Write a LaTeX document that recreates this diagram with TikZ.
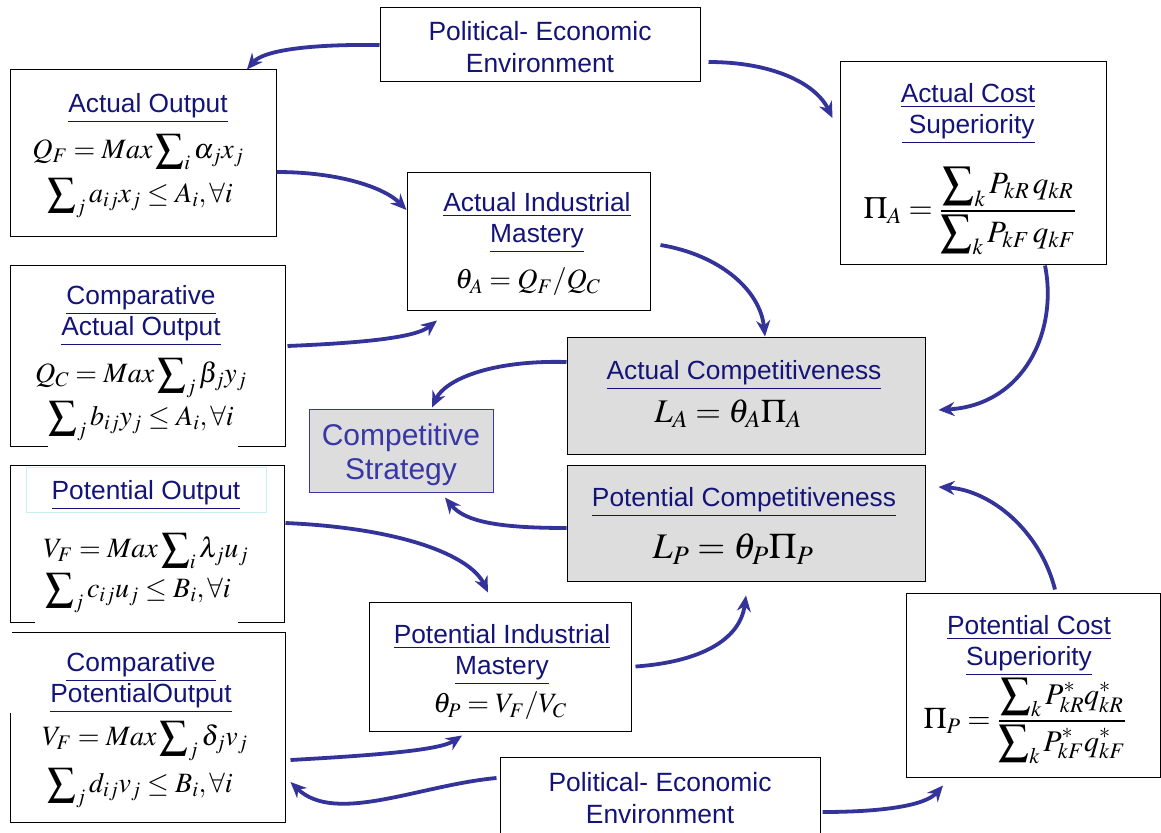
\documentclass[tikz,border=0pt]{standalone}
\usepackage{amsmath}
\usepackage{mathptmx}
\usepackage[no-math]{fontspec}
\setmainfont{Liberation Sans}
\usetikzlibrary{arrows.meta}
\definecolor{navy}{RGB}{20,20,120}
\definecolor{arrowblue}{RGB}{51,51,153}
\definecolor{csblue}{RGB}{55,55,165}
\definecolor{boxgray}{RGB}{221,221,221}
\definecolor{lcyan}{RGB}{200,240,240}
\newcommand\hd[1]{\underline{#1}}
\begin{document}
\begin{tikzpicture}[x=1pt,y=-1pt,
  box/.style={draw=black, line width=1pt, inner sep=0pt},
  graybox/.style={box, fill=boxgray},
  title/.style={text=navy, font=\fontsize{26.3}{31}\selectfont, align=center, inner sep=0pt},
  plain/.style={text=navy, font=\fontsize{26.4}{32}\selectfont, align=center, inner sep=0pt},
  fm/.style={font=\fontsize{28}{30}\selectfont, inner sep=0pt},
  arr/.style={draw=arrowblue, line width=3.8pt, -{Stealth[length=16pt,width=14pt]}}]
\useasboundingbox (0,0) rectangle (1161,832);
\fill[white] (0,0) rectangle (1161,832);

% boxes
\node[box, minimum width=320pt, minimum height=74pt] (topPEE) at (540,45) {};
\node[box, minimum width=266pt, minimum height=166pt] (ao) at (143,153) {};
\node[box, minimum width=266pt, minimum height=202pt] (acs) at (973,163) {};
\node[box, minimum width=243pt, minimum height=138pt] (aim) at (528.5,241) {};
\node[box, minimum width=275pt, minimum height=181pt] (cao) at (147.5,355.5) {};
\node[draw=csblue, line width=1pt, fill=boxgray, minimum width=184pt, minimum height=83pt, inner sep=0pt] (cs) at (401,450.5) {};
\node[graybox, minimum width=358pt, minimum height=117pt] (ac) at (746,395.5) {};
\node[graybox, minimum width=358pt, minimum height=116pt] (pc) at (746,523) {};
\node[box, minimum width=274pt, minimum height=157pt] (po) at (147,543.5) {};
\node[box, minimum width=275pt, minimum height=190pt] (cpo) at (147.5,727) {};
\node[box, minimum width=262pt, minimum height=129pt] (pim) at (500,666.5) {};
\node[box, minimum width=254pt, minimum height=184pt] (pcs) at (1033,685) {};
\node[box, minimum width=320pt, minimum height=83pt] (botPEE) at (660,798.5) {};

% gaps in borders
\draw[white, line width=3pt] (48,446) -- (238,446);
\draw[white, line width=3pt] (35,622) -- (238,622);
\draw[white, line width=3pt] (10,631) -- (10,713);
\node[draw=lcyan, line width=0.8pt, minimum width=240pt, minimum height=45pt, inner sep=0pt] (potitle) at (146,489.5) {};

% texts
\node[plain] (tPEEt) at (540,47) {Political- Economic\\Environment};
\node[title] (aot) at (148,108) {\hd{Actual Output}};
\node[fm] (aof1) at (138,152) {$Q_F = Max\displaystyle\sum\nolimits_i \alpha_j x_j$};
\node[fm] (aof2) at (140,198) {$\displaystyle\sum\nolimits_j a_{ij} x_j \le A_i ,\forall i$};

\node[title] (acst) at (968,114) {\hd{Actual Cost}\\\hd{\ Superiority}};
\node[fm, font=\fontsize{31}{34}\selectfont] (acsf) at (970,211) {$\Pi_A = \dfrac{\displaystyle\sum\nolimits_k P_{kR}\, q_{kR}}{\displaystyle\sum\nolimits_k P_{kF}\, q_{kF}}$};

\node[title] (aimt) at (537,223) {\hd{Actual Industrial}\\\hd{Mastery}};
\node[fm] (aimf) at (528,282) {$\theta_A = Q_F / Q_C$};

\node[title] (caot) at (141,316) {\hd{Comparative}\\\hd{Actual Output}};
\node[fm] (caof1) at (141,378) {$Q_C = Max\displaystyle\sum\nolimits_j \beta_j y_j$};
\node[fm] (caof2) at (141,421) {$\displaystyle\sum\nolimits_j b_{ij} y_j \le A_i ,\forall i$};

\node[text=csblue, font=\fontsize{30}{34}\selectfont, align=center, inner sep=0pt] (cst) at (401,455) {Competitive\\Strategy};

\node[title] (act) at (744,375) {\hd{Actual Competitiveness}};
\node[fm, font=\fontsize{33}{36}\selectfont] (acf) at (728,414) {$L_A = \theta_A \Pi_A$};
\node[title] (pct) at (744,502) {\hd{Potential Competitiveness}};
\node[fm, font=\fontsize{36}{40}\selectfont] (pcf) at (733,549) {$L_P = \theta_P \Pi_P$};

\node[title] (pot) at (146,495) {\hd{Potential Output}};
\node[fm] (pof1) at (146,551) {$V_F = Max\displaystyle\sum\nolimits_i \lambda_j u_j$};
\node[fm] (pof2) at (138,593) {$\displaystyle\sum\nolimits_j c_{ij} u_j \le B_i ,\forall i$};

\node[title] (cpot) at (141,683) {\hd{Comparative}\\\hd{PotentialOutput}};
\node[fm] (cpof1) at (145,741) {$V_F = Max\displaystyle\sum\nolimits_j \delta_j v_j$};
\node[fm] (cpof2) at (140,788) {$\displaystyle\sum\nolimits_j d_{ij} v_j \le B_i ,\forall i$};

\node[title] (pimt) at (502,655) {\hd{Potential Industrial}\\\hd{Mastery}};
\node[fm] (pimf) at (500,706) {$\theta_P = V_F / V_C$};

\node[title] (pcst) at (1029,646) {\hd{Potential Cost}\\\hd{Superiority}};
\node[fm, font=\fontsize{30}{34}\selectfont] (pcsf) at (1025,721) {$\Pi_P = \dfrac{\displaystyle\sum\nolimits_k P^*_{kR} q^*_{kR}}{\displaystyle\sum\nolimits_k P^*_{kF} q^*_{kF}}$};

\node[plain] (bPEEt) at (660,798) {Political- Economic\\Environment};

% arrows
\draw[arr] (topPEE.west) .. controls (300,44) and (262,52) .. ([xshift=104pt]ao.north);
\draw[arr] ([xshift=8pt,yshift=-17pt]topPEE.east) .. controls (770,62) and (815,82) .. ([xshift=-7pt,yshift=45pt]acs.west);
\draw[arr] ([yshift=-19pt]ao.east) .. controls (340,172) and (385,188) .. ([yshift=31pt]aim.west);
\draw[arr] ([xshift=2pt,yshift=9.5pt]cao.east) .. controls (360,343) and (415,338) .. ([xshift=-91.5pt,yshift=-10pt]aim.south);
\draw[arr] ([xshift=10pt,yshift=-4pt]aim.east) .. controls (720,255) and (760,290) .. ([xshift=19pt]ac.north);
\draw[arr] ([xshift=72pt,yshift=-1pt]acs.south) .. controls (1058,330) and (1025,405) .. ([xshift=13pt,yshift=-14.5pt]ac.east);
\draw[arr] ([yshift=33.5pt]ac.west) .. controls (490,360) and (445,380) .. ([xshift=31pt,yshift=1pt]cs.north);
\draw[arr] ([yshift=-5pt]pc.west) .. controls (500,528) and (465,522) .. ([xshift=44pt,yshift=-5pt]cs.south);
\draw[arr] ([xshift=1pt,yshift=20.5pt]po.east) .. controls (400,528) and (470,555) .. ([xshift=-12pt,yshift=9pt]pim.north);
\draw[arr] ([xshift=4pt]pim.east) .. controls (700,662) and (740,640) .. ([yshift=-14pt]pc.south);
\draw[arr] ([xshift=22pt,yshift=3pt]pcs.north) .. controls (1040,530) and (990,490) .. ([xshift=13pt,yshift=36pt]pc.east);
\draw[arr] ([xshift=5pt,yshift=-33pt]cpo.east) .. controls (380,755) and (440,750) .. ([xshift=-38pt,yshift=-4pt]pim.south);
\draw[arr] ([xshift=-3pt,yshift=20.5pt]botPEE.west) .. controls (420,785) and (335,825) .. ([xshift=5pt,yshift=-55pt]cpo.east);
\draw[arr] ([xshift=2pt,yshift=-13.5pt]botPEE.east) .. controls (880,812) and (925,806) .. ([xshift=-90pt,yshift=-8pt]pcs.south);
\end{tikzpicture}
\end{document}
